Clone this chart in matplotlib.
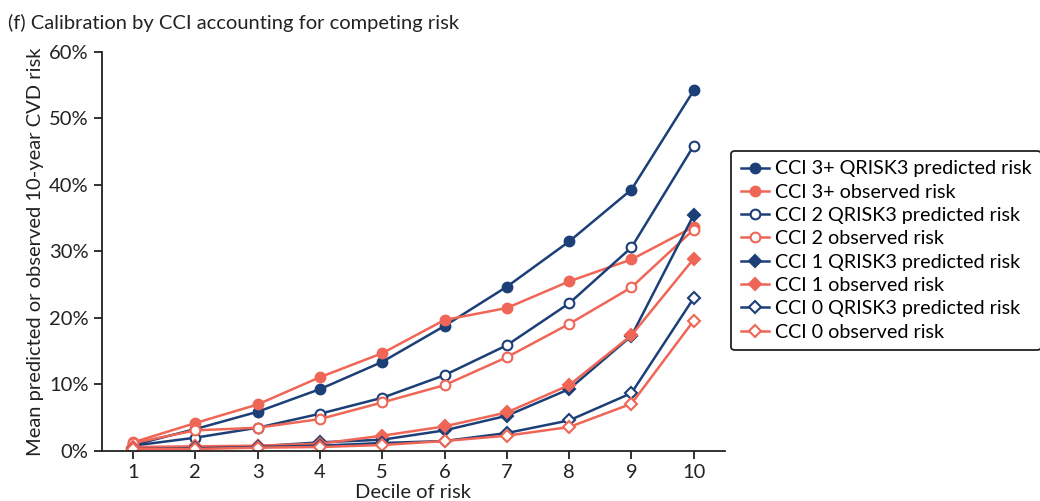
import matplotlib
matplotlib.use("Agg")
import matplotlib.pyplot as plt

plt.rcParams['font.family'] = ['Lato', 'DejaVu Sans']

deciles = [1, 2, 3, 4, 5, 6, 7, 8, 9, 10]

# values in percent
cci3_pred = [0.9, 3.3, 5.9, 9.3, 13.4, 18.8, 24.7, 31.5, 39.3, 54.2]
cci3_obs = [1.3, 4.2, 7.0, 11.1, 14.7, 19.7, 21.5, 25.5, 28.8, 33.7]
cci2_pred = [0.8, 2.0, 3.5, 5.6, 8.0, 11.4, 15.9, 22.2, 30.6, 45.9]
cci2_obs = [1.2, 3.1, 3.5, 4.8, 7.3, 9.9, 14.1, 19.1, 24.6, 33.3]
cci1_pred = [0.5, 0.6, 0.7, 1.3, 1.7, 3.1, 5.3, 9.3, 17.3, 35.5]
cci1_obs = [0.6, 0.7, 0.8, 1.1, 2.3, 3.7, 5.8, 9.9, 17.4, 28.9]
cci0_pred = [0.3, 0.4, 0.6, 0.8, 1.2, 1.5, 2.7, 4.6, 8.7, 23.0]
cci0_obs = [0.3, 0.3, 0.5, 0.6, 0.9, 1.5, 2.3, 3.6, 7.1, 19.6]

labels = [
    'CCI 3+ QRISK3 predicted risk',
    'CCI 3+ observed risk',
    'CCI 2 QRISK3 predicted risk',
    'CCI 2 observed risk',
    'CCI 1 QRISK3 predicted risk',
    'CCI 1 observed risk',
    'CCI 0 QRISK3 predicted risk',
    'CCI 0 observed risk',
]

navy = '#1c3f78'
coral = '#ef6656'
ink = '#222222'
fs = 14.5

fig = plt.figure(figsize=(10.4, 5.01), dpi=100)
ax = fig.add_axes([0.098, 0.0998, 0.599, 0.7966])

series = [
    (cci3_pred, navy, 'o', True),
    (cci3_obs, coral, 'o', True),
    (cci2_pred, navy, 'o', False),
    (cci2_obs, coral, 'o', False),
    (cci1_pred, navy, 'D', True),
    (cci1_obs, coral, 'D', True),
    (cci0_pred, navy, 'D', False),
    (cci0_obs, coral, 'D', False),
]

for (vals, col, mk, filled), lab in zip(series, labels):
    ms = 7 if mk == 'o' else 6.5
    ax.plot(deciles, vals, color=col, lw=1.8, marker=mk, ms=ms,
            markerfacecolor=col if filled else 'white',
            markeredgecolor=col, markeredgewidth=1.5, label=lab)

ax.set_xlim(0.5, 10.5)
ax.set_ylim(0, 60)
ax.set_xticks(deciles)
ax.set_yticks(range(0, 61, 10))
ax.set_yticklabels([f'{v}%' for v in range(0, 61, 10)])
ax.spines['top'].set_visible(False)
ax.spines['right'].set_visible(False)
for s in ['left', 'bottom']:
    ax.spines[s].set_linewidth(1.3)
    ax.spines[s].set_color(ink)
ax.tick_params(axis='both', labelsize=fs, length=6, width=1.3, color=ink,
               labelcolor=ink)
ax.set_xlabel('Decile of risk', fontsize=fs, color=ink, labelpad=2)
ax.set_ylabel('Mean predicted or observed 10-year CVD risk', fontsize=fs,
              color=ink, labelpad=4)

fig.text(0.008, 0.955, '(f) Calibration by CCI accounting for competing risk',
         fontsize=fs, color=ink, va='center')

leg = ax.legend(loc='center left', bbox_to_anchor=(0.703, 0.5), bbox_transform=fig.transFigure,
                fontsize=14.2, frameon=True, fancybox=True, handlelength=1.4,
                handletextpad=0.3, labelspacing=0.32, borderpad=0.5, borderaxespad=0)
leg.get_frame().set_edgecolor(ink)
leg.get_frame().set_linewidth(1.3)
leg.get_frame().set_alpha(1)

fig.savefig('out.png', dpi=100)
